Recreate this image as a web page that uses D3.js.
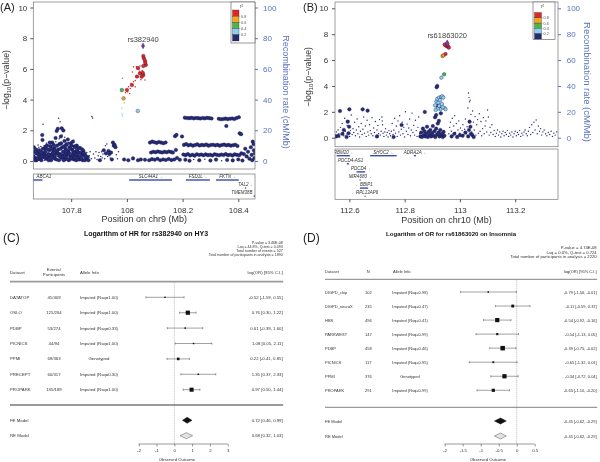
<!DOCTYPE html>
<html><head><meta charset="utf-8">
<script src="https://cdn.jsdelivr.net/npm/d3@7"></script>
<style>
body{margin:0;background:#fff}
svg{display:block;font-family:"Liberation Sans",Arial,sans-serif;will-change:transform}
</style>
</head><body>
<svg id="c" width="600" height="462"></svg>
<script>
// ---------------- DATA ----------------
const ldLabels = ["0.8","0.6","0.4","0.2"];
const ldColors = {red:"#e3261f", orange:"#f6a41f", green:"#4db545", lb:"#8ccff1", navy:"#262b74"};
const locusYTicks = [0,2,4,6,8,10];
const recombTicks = [0,20,40,60,80,100];

// Panel A: chr9 [position Mb, -log10 p, genotyped flag]
const A_xTicks = [107.8,108,108.2,108.4];
const A_lead = {snp:"rs382940", pos:108.058, p:7.5};
const A_red = [[108.059,6.84,1],[108.061,6.69,1],[108.065,6.53,1],[108.068,6.25,1],[108.059,6.19,1],[108.047,6.19,0],[108.034,6.14,0],[108.024,6.14,0],[108.047,5.71,1],[108.059,5.60,1],[108.053,5.49,1],[108.065,5.28,0],[108.041,5.49,0],[108.024,5.17,0],[108.018,4.95,1],[108.006,4.84,0],[108.000,4.63,1],[108.012,4.73,0],[108.030,4.84,0],[108.066,6.40,1],[108.063,6.60,0],[108.055,5.90,0],[108.045,5.85,0],[108.036,5.50,1],[108.030,5.25,0],[108.015,5.05,0],[107.995,4.45,0],[108.003,4.50,0],[108.050,5.30,0],[108.010,4.40,0],[108.020,5.80,0],[108.040,6.05,1],[108.057,5.75,1]];
const A_green = [[107.984,5.39,0],[107.982,4.63,1],[107.979,4.52,0],[107.986,4.58,0]];
const A_orange = [[107.988,4.08,1],[107.991,3.80,0],[107.985,4.12,0]];
const A_lb = [[108.039,3.26,1],[107.982,3.06,0],[107.985,2.93,0],[107.982,3.43,0]];
const A_navy = [
[107.665,0.3,1],[107.667,0.6,1],[107.668,0.1,1],[107.670,0.45,0],[107.672,0.2,1],[107.674,0.75,1],[107.676,0.05,1],[107.678,0.35,0],[107.680,0.55,1],[107.682,0.15,1],[107.684,0.9,0],[107.686,0.3,1],[107.688,0.6,0],[107.690,0.1,1],[107.692,0.4,1],[107.694,0.7,0],[107.696,1.69,1],[107.697,1.37,1],[107.699,2.39,0],[107.700,0.25,1],[107.702,0.5,1],[107.704,0.05,0],[107.706,0.8,1],[107.708,0.35,1],[107.710,0.15,1],[107.712,0.6,0],[107.714,1.0,1],[107.716,0.2,1],[107.718,0.45,1],[107.720,0.1,0],[107.722,0.7,1],[107.724,0.3,1],[107.726,0.95,1],[107.728,0.05,1],[107.730,0.55,0],[107.732,1.2,1],[107.734,0.25,1],[107.736,0.65,1],[107.738,0.4,0],[107.740,0.85,1],[107.742,0.15,1],[107.744,1.5,1],[107.746,0.5,1],[107.748,1.95,1],[107.750,0.3,0],[107.752,2.1,1],[107.754,0.75,1],[107.755,2.78,0],[107.756,0.05,1],[107.758,1.1,1],[107.760,2.56,0],[107.761,0.45,1],[107.763,1.6,1],[107.765,0.2,1],[107.766,2.13,1],[107.768,0.9,1],[107.770,0.35,1],[107.772,1.99,1],[107.774,0.6,1],[107.776,1.3,1],[107.778,0.1,1],[107.780,0.8,1],[107.782,1.05,1],[107.784,0.4,1],[107.786,0.2,0],[107.788,1.4,1],[107.790,0.65,1],[107.792,0.05,1],[107.794,0.9,1],[107.796,0.3,1],[107.798,1.15,1],[107.800,0.5,0],[107.802,0.15,1],[107.804,0.75,1],[107.806,1.26,1],[107.808,0.4,1],[107.810,0.1,1],[107.812,0.95,1],[107.814,0.25,0],[107.816,0.6,1],[107.818,0.05,1],[107.820,1.0,1],[107.822,0.35,1],[107.824,0.7,0],[107.826,0.2,1],[107.828,0.55,1],[107.830,0.1,1],[107.832,0.85,1],[107.835,0.3,0],[107.838,0.45,1],[107.841,0.05,1],[107.844,0.65,1],[107.847,0.2,0],[107.850,0.4,1],[107.853,0.1,1],[107.856,0.55,0],[107.859,0.25,1],[107.862,0.05,1],[107.865,0.35,0],
[107.669,0.8,0],[107.691,0.95,0],[107.701,0.9,0],[107.703,1.0,0],[107.711,1.15,0],[107.725,1.1,0],[107.745,1.25,0],[107.757,1.45,0],[107.767,1.7,0],[107.777,1.55,0],[107.791,1.2,0],[107.809,1.35,0],[107.683,0.45,1],[107.705,0.3,1],[107.727,0.4,1],[107.739,0.2,1],[107.751,0.55,1],[107.769,0.25,1],[107.787,0.5,1],[107.803,0.3,1],[107.817,0.45,1],
[107.666,0.9,1],[107.671,0.05,1],[107.675,0.5,1],[107.679,0.15,1],[107.681,1.05,0],[107.685,0.7,1],[107.689,0.25,1],[107.693,0.05,1],[107.695,0.55,1],[107.698,0.8,1],[107.707,0.6,1],[107.709,0.95,1],[107.713,0.35,1],[107.717,0.75,1],[107.719,0.05,1],[107.721,0.4,1],[107.723,1.2,1],[107.729,0.25,1],[107.731,0.8,1],[107.733,0.5,1],[107.737,1.05,1],[107.741,0.35,1],[107.743,0.7,1],[107.747,0.1,1],[107.749,1.0,1],[107.753,0.45,1],[107.759,0.3,1],[107.762,0.8,1],[107.764,1.15,1],[107.771,0.6,1],[107.773,0.05,1],[107.775,0.95,1],[107.779,0.45,1],[107.781,0.25,1],[107.783,0.7,1],[107.785,1.1,1],[107.789,0.1,1],[107.793,0.5,1],[107.797,0.8,1],[107.799,0.2,1],[107.801,1.0,1],[107.805,0.35,1],[107.807,0.6,1],[107.811,0.5,1],[107.813,0.2,1],[107.815,0.9,1],[107.819,0.4,1],[107.821,0.7,1],[107.823,0.1,1],[107.827,0.85,1],[107.829,0.3,1],[107.833,0.55,1],[107.837,0.15,1],[107.840,0.75,1],[107.843,0.35,1],[107.846,0.5,1],[107.849,0.05,1],[107.852,0.3,1],
[107.868,0.6,0],[107.872,0.15,0],[107.874,2.9,0],[107.877,2.8,0],[107.880,0.45,0],[107.885,0.2,0],[107.889,0.6,0],[107.893,0.1,0],[107.897,0.35,0],[107.900,0.55,0],[107.903,0.05,1],[107.906,0.3,0],[107.909,0.6,0],[107.911,0.2,0],[107.914,0.45,0],[107.917,0.7,1],[107.920,0.15,0],[107.923,1.0,0],[107.925,0.5,1],[107.928,1.1,0],[107.931,0.3,0],[107.934,0.65,1],[107.937,0.45,1],[107.940,0.2,0],[107.943,0.55,1],[107.946,0.1,1],[107.950,1.2,1],[107.953,1.0,1],[107.956,1.05,1],[107.959,0.9,1],[107.962,0.4,0],[107.966,0.15,0],[107.970,0.6,0],
[107.990,0.1,1],[108.005,0.05,1],[108.022,0.17,1],[108.040,0.05,1],[108.050,0.1,1],[108.065,0.08,1],[108.080,0.05,1],
[108.083,1.2,1],[108.091,1.26,1],[108.099,1.22,1],[108.107,1.18,1],[108.115,1.24,1],[108.123,1.2,1],[108.131,1.16,1],[108.139,1.21,1],
[108.087,0.55,1],[108.095,0.6,1],[108.103,0.57,1],[108.111,0.62,1],[108.119,0.58,1],[108.127,0.55,1],[108.135,0.6,1],[108.143,0.57,1],[108.151,0.62,1],[108.159,0.58,1],[108.165,0.55,1],
[108.090,0.12,1],[108.100,0.08,1],[108.110,0.15,1],[108.120,0.05,1],[108.130,0.1,1],[108.140,0.07,1],[108.150,0.13,1],[108.160,0.06,1],[108.170,0.1,1],[108.180,0.2,1],[108.190,0.08,1],
[108.173,1.62,1],[108.178,1.7,1],[108.198,1.6,1],[108.176,0.72,1],
[108.208,2.82,1],[108.216,2.80,1],[108.224,2.79,1],[108.232,2.81,1],[108.240,2.78,1],[108.248,2.80,1],[108.256,2.79,1],[108.264,2.77,1],[108.272,2.80,1],[108.280,2.78,1],[108.288,2.81,1],[108.296,2.79,1],[108.304,2.77,1],[108.330,2.75,1],[108.338,2.72,1],[108.346,2.74,1],[108.354,2.76,1],[108.362,2.73,1],[108.370,2.75,1],[108.378,2.77,1],[108.386,2.74,1],[108.394,2.80,1],[108.402,2.85,1],[108.357,2.28,1],
[108.205,1.05,1],[108.213,1.1,1],[108.221,1.02,1],[108.229,1.06,1],[108.237,1.0,1],[108.245,1.04,1],[108.253,1.08,1],[108.261,1.01,1],[108.269,1.05,1],[108.277,1.03,1],[108.285,1.07,1],[108.293,1.0,1],[108.301,1.04,1],[108.309,1.06,1],[108.317,1.02,1],[108.325,1.05,1],[108.333,1.0,1],[108.341,1.04,1],[108.349,1.07,1],[108.357,1.02,1],[108.365,1.05,1],[108.373,1.0,1],[108.381,1.03,1],[108.389,1.06,1],[108.397,0.98,1],
[108.203,0.42,1],[108.211,0.38,1],[108.219,0.45,1],[108.227,0.36,1],[108.235,0.41,1],[108.243,0.35,1],[108.251,0.44,1],[108.259,0.39,1],[108.267,0.42,1],[108.275,0.37,1],[108.283,0.43,1],[108.291,0.38,1],[108.299,0.41,1],[108.307,0.36,1],[108.315,0.44,1],[108.323,0.4,1],[108.331,0.37,1],[108.339,0.42,1],[108.347,0.39,1],[108.355,0.45,1],[108.363,0.38,1],[108.371,0.41,1],[108.379,0.36,1],[108.387,0.43,1],[108.395,0.4,1],[108.403,0.37,1],[108.411,0.5,1],[108.420,0.45,1],
[108.210,0.08,1],[108.225,0.02,1],[108.240,0.1,0],[108.260,0.05,1],[108.280,0.12,0],[108.300,0.03,1],[108.320,0.09,1],[108.340,0.02,0],[108.360,0.07,1],[108.380,0.04,1],[108.400,0.1,1],[108.415,0.03,1],
[108.405,1.8,1],[108.410,1.75,1],[108.425,0.8,1],[108.430,0.3,1],[108.435,0.6,1],[108.440,0.15,1],[108.445,0.9,1],[108.448,0.4,1],[108.452,1.26,1],[108.455,1.1,1],[108.456,0.7,1],[108.458,0.2,1],[108.460,0.5,1],[108.450,0.05,1]
];
const A_geneName = ["ABCA1","SLC44A1","FSD1L","FKTN","TAL2","TMEM38B"];
const A_geneStart = [107.54,108.008,108.212,108.320,108.424,108.455];
const A_geneEnd = [107.697,108.162,108.298,108.402,108.428,108.52];
const A_geneStrand = ["-","+","+","+","+","+"];
const A_geneRow = [0,0,0,0,1,2];

// Panel B: chr10
const B_xTicks = [112.6,112.8,113,113.2];
const B_lead = {snp:"rs61863020", pos:112.954, p:7.29};
const B_red = [[112.947,7.16,1],[112.951,7.09,1],[112.957,7.03,1],[112.960,6.96,1],[112.948,6.47,1],[112.955,7.12,1],[112.945,7.20,1]];
const B_orange = [[112.937,6.31,1],[112.941,6.37,1]];
const B_green = [[112.943,4.90,1]];
const B_lb = [[112.933,4.64,1],[112.910,2.5,1],[112.915,2.8,1],[112.918,3.0,1],[112.922,2.7,1],[112.925,3.1,1],[112.928,2.9,1],[112.932,3.15,1],[112.936,3.2,1],[112.940,3.1,1],[112.944,2.3,1],[112.948,2.2,1],[112.930,2.2,1],[112.920,2.25,1],[112.912,2.15,1],[112.925,2.45,1],[112.935,2.6,1],[112.938,2.35,1]];
const B_navy = [
[112.550,0.2,0],[112.553,0.45,0],[112.556,0.1,0],[112.559,0.6,0],[112.562,0.3,0],[112.565,0.05,0],[112.568,0.8,0],[112.571,0.25,0],[112.574,1.1,0],[112.577,0.4,0],[112.580,0.15,0],[112.583,1.5,0],[112.586,0.5,0],[112.589,0.2,0],[112.592,0.95,0],[112.595,0.35,0],[112.598,1.3,0],[112.601,0.1,0],[112.604,0.55,0],[112.607,1.75,0],[112.610,0.25,0],[112.613,0.7,0],[112.616,0.4,0],[112.619,1.2,0],[112.622,0.15,0],[112.625,0.6,0],[112.628,1.45,0],[112.631,0.3,0],[112.634,0.85,0],[112.637,0.05,0],[112.640,0.5,0],[112.643,1.1,0],[112.646,0.25,0],[112.649,0.65,0],[112.652,1.6,0],[112.655,0.35,0],[112.658,0.9,0],[112.661,0.1,0],[112.664,1.35,0],[112.667,0.45,0],[112.670,0.2,0],[112.673,1.0,0],[112.676,0.55,0],[112.679,0.3,0],[112.682,1.55,0],[112.685,0.15,0],[112.688,0.75,0],[112.691,0.4,0],[112.694,1.25,0],[112.697,0.05,0],[112.700,0.6,0],[112.703,0.95,0],[112.706,0.3,0],[112.709,1.4,0],[112.712,0.2,0],[112.715,0.5,0],[112.718,1.6,0],[112.719,1.3,0],[112.720,1.0,0],[112.722,0.35,0],[112.725,0.1,0],[112.728,0.45,0],[112.731,0.7,0],[112.734,0.2,0],[112.737,0.4,0],[112.740,0.05,0],[112.743,0.55,0],[112.746,0.3,0],[112.749,0.15,0],[112.752,0.5,0],[112.755,1.1,0],[112.758,0.25,0],[112.761,0.6,0],[112.764,1.5,0],[112.767,0.35,0],[112.770,0.9,0],[112.773,0.1,0],[112.776,1.3,0],[112.779,0.45,0],[112.782,1.7,0],[112.785,0.2,0],[112.788,0.65,0],[112.791,1.2,0],[112.794,0.3,0],[112.797,0.8,0],[112.800,0.05,0],[112.803,2.0,0],[112.806,0.5,0],[112.809,1.05,0],[112.812,0.25,0],[112.815,0.75,0],[112.818,1.45,0],[112.821,0.15,0],[112.824,0.6,0],[112.827,1.9,0],[112.830,0.4,0],[112.833,0.95,0],[112.836,0.2,0],[112.839,1.35,0],[112.842,0.55,0],[112.845,0.1,0],[112.848,0.8,0],[112.851,1.6,0],[112.854,0.3,0],
[112.960,0.3,0],[112.963,0.8,0],[112.966,1.2,0],[112.969,0.5,0],[112.972,1.5,0],[112.975,0.2,0],[112.978,0.9,0],[112.981,1.7,0],[112.984,0.4,0],[112.987,1.1,0],[112.990,0.15,0],[112.993,0.6,0],[112.996,1.3,0],[112.999,0.35,0],[113.002,0.75,0],[113.005,0.1,0],[113.008,0.55,0],[113.011,1.0,0],[113.014,0.25,0],[113.017,0.65,0],[113.020,1.45,0],[113.023,0.3,0],[113.026,0.85,0],[113.029,2.3,0],[113.031,3.45,0],[113.033,3.1,0],[113.035,2.78,0],[113.037,2.9,0],[113.040,1.8,0],[113.043,0.45,0],[113.046,2.06,0],[113.049,1.2,0],[113.052,0.6,0],[113.055,1.63,0],[113.058,0.2,0],[113.061,1.0,0],[113.064,1.4,0],[113.067,0.35,0],[113.070,1.85,0],[113.073,0.5,0],[113.076,1.25,0],[113.079,0.15,0],[113.082,0.7,0],[113.085,1.55,0],[113.088,0.3,0],[113.091,0.9,0],[113.094,1.3,0],[113.097,0.45,0],[113.100,2.14,0],[113.103,1.6,0],[113.106,0.2,0],[113.109,0.8,0],[113.112,0.4,0],[113.116,1.0,0],[113.120,0.25,0],[113.124,0.55,0],[113.128,0.1,0],[113.132,0.35,0],[113.136,0.6,0],[113.140,0.2,0],[113.144,0.45,0],[113.148,0.05,0],[113.152,0.3,0],[113.156,0.5,0],[113.160,0.15,0],[113.164,0.4,0],[113.168,0.25,0],[113.172,0.55,0],[113.176,0.1,0],[113.180,0.35,0],[113.184,0.2,0],[113.188,0.45,0],[113.192,0.05,0],[113.196,0.3,0],[113.200,0.5,0],[113.204,0.15,0],[113.208,0.4,0],[113.212,0.25,0],[113.216,0.55,0],[113.220,0.1,0],[113.224,0.35,0],[113.228,0.2,0],[113.232,0.45,0],[113.236,0.6,0],[113.240,0.3,0],[113.244,0.15,0],[113.248,0.5,0],[113.252,0.8,0],[113.256,0.25,0],[113.260,1.0,0],[113.264,0.4,0],[113.268,1.2,0],[113.272,0.6,0],[113.276,1.37,0],[113.280,0.3,0],[113.284,0.9,0],[113.288,0.5,0],[113.292,0.7,0],[113.296,0.2,0],[113.300,0.45,0],[113.305,0.6,0],[113.310,0.3,0],[113.315,0.15,0],[113.320,0.4,0],[113.325,0.25,0],[113.330,0.5,0],[113.335,0.1,0],[113.340,0.35,0],[113.345,0.2,0],[113.350,0.45,0],
[112.566,2.06,1],[112.594,1.24,1],[112.599,0.85,1],[112.597,0.34,1],[112.600,2.19,1],[112.648,2.19,1],[112.666,2.09,1],[112.560,0.15,1],[112.580,0.6,1],[112.789,0.98,1],[112.873,1.99,1],[112.552,0.1,1],[112.575,0.3,1],[112.590,0.05,1],[112.700,0.1,1],[112.760,0.05,1],
[112.857,0.1,1],[112.860,0.4,1],[112.863,0.05,1],[112.866,0.7,1],[112.869,0.2,1],[112.872,0.5,1],[112.875,0.1,1],[112.878,0.3,1],[112.881,0.85,1],[112.884,0.05,1],[112.887,0.45,1],[112.890,0.2,1],[112.893,0.6,1],[112.896,0.1,1],[112.899,0.35,1],[112.902,0.9,1],[112.905,0.15,1],[112.908,0.5,1],[112.911,0.05,1],[112.914,0.7,1],[112.917,0.25,1],[112.920,1.1,1],[112.923,0.4,1],[112.926,0.1,1],[112.929,0.6,1],[112.932,0.2,1],[112.935,0.3,1],[112.938,0.05,1],[112.941,0.45,1],[112.944,0.15,1],[112.910,1.58,1],[112.914,1.75,1],[112.931,1.88,1],[112.919,2.45,1],[112.927,2.3,1],[112.918,4.0,1],[112.916,3.9,1],[112.924,1.3,1],
[113.035,1.24,1],[113.038,0.85,1],[113.033,0.6,1],[113.040,0.3,1],[112.970,0.1,1],[112.980,0.3,1],[112.990,0.05,1],[113.000,0.2,1],[113.010,0.15,1],[113.020,0.4,1],[113.030,0.1,1],[113.045,0.2,1],[113.050,0.05,1]
];
const B_geneName = ["RBM20","SHOC2","ADRA2A","PDCD4-AS1","PDCD4","MIR4680","BBIP1","RPL13AP6"];
const B_geneStart = [112.554,112.675,112.834,112.591,112.626,112.637,112.638,112.655];
const B_geneEnd = [112.602,112.771,112.841,112.599,112.657,112.640,112.668,112.658];
const B_geneStrand = ["+","+","+","-","+","+","-","-"];
const B_geneRow = [0,0,0,1,2,3,4,5];

// Panel C forest
const C_title = "Logarithm of HR for rs382940 on HY3";
const C_stats = ["P-value = 3.46E-08","I-sq = 44.8%, Q-test = 0.093","Total number of events = 527","Total number of participants in analysis = 1890"];
const C_study = ["DATATOP","OSLO","PDBP","PICNICS","PPMI","PRECEPT","PROPARK"];
const C_count = ["41/409","125/264","53/274","44/94","69/363","60/317","135/189"];
const C_allele = ["Imputed (Rsq=1.00)","Imputed (Rsq=1.00)","Imputed (Rsq=0.33)","Imputed (Rsq=1.00)","Genotyped","Imputed (Rsq=0.30)","Imputed (Rsq=1.00)"];
const C_est = [-0.52,0.76,0.61,1.08,0.22,1.35,0.97];
const C_lo = [-1.59,0.30,-0.39,0.05,-0.41,0.37,0.50];
const C_hi = [0.55,1.22,1.60,2.11,0.85,2.33,1.44];
const C_model = ["FE Model","RE Model"];
const C_modelEst = [0.72,0.68];
const C_modelLo = [0.46,0.32];
const C_modelHi = [0.99,1.03];
const C_ticks = [-2,-1,0,1,2,3];

// Panel D forest
const D_title = "Logarithm of OR for rs61863020 on Insomnia";
const D_stats = ["P-value = 4.74E-08","I-sq = 0.0%, Q-test = 0.724","Total number of participants in analysis = 2220"];
const D_study = ["DIGPD_chip","DIGPD_neuroX","HBS","PARKWEST","PDBP","PICNICS","PPMI","PROPARK"];
const D_count = ["102","235","496","147","458","117","376","291"];
const D_allele = ["Imputed (Rsq=0.98)","Imputed (Rsq=0.47)","Imputed (Rsq=0.41)","Imputed (Rsq=0.99)","Imputed (Rsq=0.46)","Imputed (Rsq=0.95)","Genotyped","Imputed (Rsq=0.99)"];
const D_est = [-0.79,-0.11,-0.54,-0.54,-0.39,-0.65,-0.34,-0.65];
const D_lo = [-1.56,-0.59,-0.92,-1.13,-0.75,-1.32,-0.72,-1.10];
const D_hi = [-0.01,0.37,-0.16,0.05,-0.02,0.01,0.04,-0.20];
const D_model = ["FE Model","RE Model"];
const D_modelEst = [-0.45,-0.45];
const D_modelLo = [-0.62,-0.62];
const D_modelHi = [-0.29,-0.29];
const D_ticks = [-2,-1.5,-1,-0.5,0,0.5];

// ---------------- DRAWING ----------------
const svg = d3.select("#c");
const BLUE = "#5a72c2";
const TXT = "#333";

function locus(cfg){
  const g = svg.append("g");
  const x = d3.scaleLinear().domain(cfg.xDomain).range([cfg.left,cfg.right]);
  const y = d3.scaleLinear().domain([0,10]).range(cfg.yRange);
  const yr = d3.scaleLinear().domain([0,100]).range(cfg.yRange);

  g.append("clipPath").attr("id",cfg.id+"clip").append("rect")
    .attr("x",cfg.left).attr("y",cfg.top).attr("width",cfg.right-cfg.left).attr("height",cfg.bottom-cfg.top);
  g.append("clipPath").attr("id",cfg.id+"gclip").append("rect")
    .attr("x",cfg.left).attr("y",cfg.gTop).attr("width",cfg.right-cfg.left).attr("height",cfg.gBottom-cfg.gTop);

  const pg = g.append("g").attr("clip-path",`url(#${cfg.id}clip)`);
  const layers = [[cfg.navy,ldColors.navy],[cfg.lb,ldColors.lb],[cfg.green,ldColors.green],[cfg.orange,ldColors.orange],[cfg.red,ldColors.red]];
  layers.forEach(([pts,col])=>{
    pg.append("g").selectAll("circle").data(pts).join("circle")
      .attr("cx",d=>x(d[0])).attr("cy",d=>y(d[1]))
      .attr("r",d=>d[2]?cfg.rBig:cfg.rSmall)
      .attr("fill",col).attr("stroke",d=>d[2]?"#15154a":"none").attr("stroke-width",0.35);
  });
  // lead SNP
  pg.append("path").attr("d",d3.symbol(d3.symbolDiamond,cfg.leadSize)())
    .attr("transform",`translate(${x(cfg.lead.pos)},${y(cfg.lead.p)})`)
    .attr("fill","#7a3d9e").attr("stroke","#2a1040").attr("stroke-width",0.4);
  g.append("text").attr("x",x(cfg.lead.pos)).attr("y",y(cfg.lead.p)-cfg.leadDy)
    .attr("text-anchor","middle").attr("font-size",7.5).attr("fill","#444").text(cfg.lead.snp);

  // plot box
  g.append("rect").attr("x",cfg.left).attr("y",cfg.top).attr("width",cfg.right-cfg.left)
    .attr("height",cfg.bottom-cfg.top).attr("fill","none").attr("stroke","#777").attr("stroke-width",0.7);

  // left axis
  const ax = g.append("g").attr("transform",`translate(${cfg.left},0)`)
    .call(d3.axisLeft(y).tickValues(locusYTicks).tickSize(3).tickPadding(cfg.lPad));
  ax.select(".domain").remove();
  ax.selectAll("text").attr("font-size",8).attr("fill",TXT).attr("font-family","Liberation Sans, Arial");
  ax.selectAll("line").attr("stroke","#555");
  // right axis
  const ar = g.append("g").attr("transform",`translate(${cfg.right},0)`)
    .call(d3.axisRight(yr).tickValues(recombTicks).tickSize(3).tickPadding(cfg.rPad));
  ar.select(".domain").remove();
  ar.selectAll("text").attr("font-size",8).attr("fill",BLUE).attr("font-family","Liberation Sans, Arial");
  ar.selectAll("line").attr("stroke",BLUE);

  // axis titles
  const lt = g.append("text").attr("transform",`translate(${cfg.lTitleX},${cfg.lTitleY}) rotate(-90)`)
    .attr("text-anchor","middle").attr("font-size",8.7).attr("fill",TXT);
  lt.append("tspan").text("\u2212log");
  lt.append("tspan").attr("font-size",6).attr("dy",2).text("10");
  lt.append("tspan").attr("dy",-2).text("(p\u2212value)");
  g.append("text").attr("transform",`translate(${cfg.rTitleX},${cfg.rTitleY}) rotate(90)`)
    .attr("text-anchor","middle").attr("font-size",cfg.rTitleSize).attr("fill",BLUE)
    .text("Recombination rate (cM/Mb)");

  // legend
  const L = cfg.legend;
  g.append("rect").attr("x",L.x).attr("y",L.y).attr("width",L.w).attr("height",L.h)
    .attr("fill","#fff").attr("stroke","#555").attr("stroke-width",0.6);
  const lr = g.append("text").attr("x",L.x+L.w/2-3).attr("y",L.y+6).attr("font-size",4.5).attr("fill","#444");
  lr.append("tspan").text("r");
  lr.append("tspan").attr("font-size",3).attr("dy",-1.5).text("2");
  const cols = [ldColors.red,ldColors.orange,ldColors.green,ldColors.lb,ldColors.navy];
  cols.forEach((c,i)=>{
    g.append("rect").attr("x",L.x+1.5).attr("y",L.sqTop+i*L.sq).attr("width",L.sqW).attr("height",L.sq)
      .attr("fill",c).attr("stroke","#222").attr("stroke-width",0.3);
  });
  ldLabels.forEach((t,i)=>{
    const yy = L.sqTop+(i+1)*L.sq;
    g.append("line").attr("x1",L.x+1.5+L.sqW).attr("x2",L.x+2.8+L.sqW).attr("y1",yy).attr("y2",yy).attr("stroke","#444").attr("stroke-width",0.3);
    g.append("text").attr("x",L.x+3.5+L.sqW).attr("y",yy+1.4).attr("font-size",3.8).attr("fill","#555").text(t);
  });

  // gene box
  g.append("rect").attr("x",cfg.left).attr("y",cfg.gTop).attr("width",cfg.right-cfg.left)
    .attr("height",cfg.gBottom-cfg.gTop).attr("fill","none").attr("stroke","#777").attr("stroke-width",0.7);
  const gg = g.append("g").attr("clip-path",`url(#${cfg.id}gclip)`);
  cfg.genes.name.forEach((nm,i)=>{
    const x0 = x(cfg.genes.start[i]), x1 = x(cfg.genes.end[i]);
    const row = cfg.genes.row[i];
    const by = cfg.gTop + cfg.gRow0 + row*cfg.gRowH;
    gg.append("rect").attr("x",x0).attr("y",by-0.7).attr("width",Math.max(1,x1-x0)).attr("height",1.4)
      .attr("fill","#3b4ea6");
    const label = cfg.genes.strand[i]==="+" ? nm+"\u2192" : "\u2190"+nm;
    const w = label.length*4.5*0.55;
    let cx = (x0+x1)/2;
    cx = Math.max(cfg.left+1+w/2, Math.min(cfg.right-1-w/2, cx));
    gg.append("text").attr("x",cx).attr("y",by-2).attr("text-anchor","middle")
      .attr("font-size",4.5).attr("font-style","italic").attr("fill","#333").text(label);
  });

  // x axis
  const axb = g.append("g").attr("transform",`translate(0,${cfg.gBottom})`)
    .call(d3.axisBottom(x).tickValues(cfg.xTicks).tickSize(3).tickPadding(5).tickFormat(d=>String(d)));
  axb.select(".domain").remove();
  axb.selectAll("text").attr("font-size",8).attr("fill",TXT).attr("font-family","Liberation Sans, Arial");
  axb.selectAll("line").attr("stroke","#555");
  g.append("text").attr("x",(cfg.left+cfg.right)/2).attr("y",cfg.xTitleY).attr("text-anchor","middle")
    .attr("font-size",9).attr("fill",TXT).text(cfg.xTitle);

  g.append("text").attr("x",cfg.tagX).attr("y",10.5).attr("font-size",11).attr("fill","#222").text(cfg.tag);
}

locus({id:"A",tag:"(A)",tagX:0,left:33.3,right:255,top:2,bottom:169,
  xDomain:[107.664,108.46],yRange:[161,7.5],
  navy:A_navy,lb:A_lb,green:A_green,orange:A_orange,red:A_red,lead:A_lead,
  rBig:1.8,rSmall:0.75,leadSize:9,leadDy:4,
  lPad:3,rPad:5,lTitleX:9,lTitleY:80,rTitleX:283,rTitleY:92,rTitleSize:9,
  legend:{x:231,y:2,w:24,h:41,sqTop:10,sq:6.2,sqW:6.5},
  gTop:174,gBottom:199,gRow0:6,gRowH:8,
  genes:{name:A_geneName,start:A_geneStart,end:A_geneEnd,strand:A_geneStrand,row:A_geneRow},
  xTicks:A_xTicks,xTitle:"Position on chr9 (Mb)",xTitleY:222});

locus({id:"B",tag:"(B)",tagX:303,left:335,right:558,top:2,bottom:146.7,
  xDomain:[112.548,113.355],yRange:[137.7,8.3],
  navy:B_navy,lb:B_lb,green:B_green,orange:B_orange,red:B_red,lead:B_lead,
  rBig:1.8,rSmall:0.7,leadSize:14,leadDy:5,
  lPad:3.7,rPad:5.7,lTitleX:311,lTitleY:77,rTitleX:584,rTitleY:82,rTitleSize:9.5,
  legend:{x:533,y:2,w:22,h:37.5,sqTop:12.5,sq:5.3,sqW:7},
  gTop:149,gBottom:199.3,gRow0:6.7,gRowH:8.1,
  genes:{name:B_geneName,start:B_geneStart,end:B_geneEnd,strand:B_geneStrand,row:B_geneRow},
  xTicks:B_xTicks,xTitle:"Position on chr10 (Mb)",xTitleY:223});

function fmt(v){ return v.toFixed(2); }

function forest(cfg){
  const g = svg.append("g").attr("font-family","Liberation Sans, Arial");
  const x = d3.scaleLinear().domain(cfg.xDomain).range(cfg.xRange);
  const y = d3.scalePoint().domain(cfg.study).range(cfg.rowRange);
  const fs = cfg.fs;
  g.append("text").attr("x",cfg.tagX).attr("y",242).attr("font-size",12).attr("fill","#222").text(cfg.tag);
  g.append("text").attr("x",cfg.titleX).attr("y",235.5).attr("text-anchor","middle").attr("font-weight","bold")
    .attr("font-size",cfg.titleSize).attr("fill","#111").text(cfg.title);
  cfg.stats.forEach((s,i)=>{
    g.append("text").attr("x",cfg.colRight).attr("y",cfg.statsY+i*cfg.statsDy).attr("text-anchor","end")
      .attr("font-size",cfg.statsFs).attr("fill","#333").text(s);
  });
  // headers
  const hy = cfg.headerY;
  g.append("text").attr("x",cfg.colDataset).attr("y",hy).attr("font-size",fs).attr("fill","#333").text("Dataset");
  cfg.countHeader.forEach((t,i)=>{
    g.append("text").attr("x",cfg.colCount).attr("y",hy+(i-(cfg.countHeader.length-1)/2)*5.6)
      .attr("text-anchor","middle").attr("font-size",fs).attr("fill","#333").text(t);
  });
  g.append("text").attr("x",cfg.colAlleleHead).attr("y",hy).attr("font-size",fs).attr("fill","#333").text("Allele Info");
  g.append("text").attr("x",cfg.colRight).attr("y",hy).attr("text-anchor","end").attr("font-size",fs).attr("fill","#333").text("log(OR) [95% C.I.]");
  // separators
  [cfg.line1,cfg.line2].forEach(ly=>{
    g.append("line").attr("x1",cfg.colDataset).attr("x2",cfg.colRight+0.5).attr("y1",ly).attr("y2",ly)
      .attr("stroke","#9a9a9a").attr("stroke-width",cfg.lineW);
  });
  // zero line
  g.append("line").attr("x1",x(0)).attr("x2",x(0)).attr("y1",cfg.line1+1).attr("y2",cfg.axisY)
    .attr("stroke","#777").attr("stroke-width",0.5).attr("stroke-dasharray","1,1");
  // weights for square sizes
  const w = cfg.study.map((s,i)=>1/Math.pow((cfg.hi[i]-cfg.lo[i])/3.92,2));
  const wmin = d3.min(w), wmax = d3.max(w);
  cfg.study.forEach((s,i)=>{
    const yy = y(s);
    g.append("text").attr("x",cfg.colDataset).attr("y",yy+1.5).attr("font-size",fs).attr("fill","#333").text(s);
    g.append("text").attr("x",cfg.colCount).attr("y",yy+1.5).attr("text-anchor","middle").attr("font-size",fs).attr("fill","#333").text(cfg.count[i]);
    g.append("text").attr("x",cfg.colAllele).attr("y",yy+1.5).attr("text-anchor","middle").attr("font-size",fs).attr("fill","#333").text(cfg.allele[i]);
    g.append("text").attr("x",cfg.colRight).attr("y",yy+1.5).attr("text-anchor","end").attr("font-size",fs).attr("fill","#333")
      .text(`${fmt(cfg.est[i])} [${fmt(cfg.lo[i])}, ${fmt(cfg.hi[i])}]`);
    const xl = x(cfg.lo[i]), xh = x(cfg.hi[i]);
    g.append("line").attr("x1",xl).attr("x2",xh).attr("y1",yy).attr("y2",yy).attr("stroke","#444").attr("stroke-width",0.5);
    [xl,xh].forEach(xx=>g.append("line").attr("x1",xx).attr("x2",xx).attr("y1",yy-1.1).attr("y2",yy+1.1).attr("stroke","#444").attr("stroke-width",0.5));
    const sz = cfg.sqBase*(0.5+(w[i]-wmin)/(wmax-wmin));
    g.append("rect").attr("x",x(cfg.est[i])-sz/2).attr("y",yy-sz/2).attr("width",sz).attr("height",sz).attr("fill","#111");
  });
  cfg.model.forEach((m,i)=>{
    const yy = cfg.modelY[i];
    g.append("text").attr("x",cfg.colDataset).attr("y",yy+1.5).attr("font-size",fs).attr("fill","#333").text(m);
    g.append("text").attr("x",cfg.colRight).attr("y",yy+1.5).attr("text-anchor","end").attr("font-size",fs).attr("fill","#333")
      .text(`${fmt(cfg.mEst[i])} [${fmt(cfg.mLo[i])}, ${fmt(cfg.mHi[i])}]`);
    const pts = [[x(cfg.mLo[i]),yy],[x(cfg.mEst[i]),yy-3],[x(cfg.mHi[i]),yy],[x(cfg.mEst[i]),yy+3]];
    g.append("path").attr("d",d3.line()(pts)+"Z")
      .attr("fill",i===0?"#111":"#e4e4e4").attr("stroke",i===0?"#111":"#555").attr("stroke-width",0.5);
  });
  // axis
  const ax = g.append("g").attr("transform",`translate(0,${cfg.axisY})`)
    .call(d3.axisBottom(x).tickValues(cfg.ticks).tickSize(2.5).tickPadding(2).tickFormat(d=>String(d)));
  ax.select(".domain").attr("stroke","#333").attr("stroke-width",0.5).attr("d",`M${x(cfg.ticks[0])},0H${x(cfg.ticks[cfg.ticks.length-1])}`);
  ax.selectAll("line").attr("stroke","#333").attr("stroke-width",0.5);
  ax.selectAll("text").attr("font-size",4.3).attr("fill","#333").attr("font-family","Liberation Sans, Arial");
  g.append("text").attr("x",cfg.obsX).attr("y",461).attr("text-anchor","middle").attr("font-size",4.2).attr("fill","#333").text("Observed Outcome");
}

forest({tag:"(C)",tagX:3,title:C_title,titleX:146,titleSize:7,stats:C_stats,statsY:243.6,statsDy:4.0,statsFs:3.6,
  study:C_study,count:C_count,allele:C_allele,est:C_est,lo:C_lo,hi:C_hi,
  model:C_model,mEst:C_modelEst,mLo:C_modelLo,mHi:C_modelHi,ticks:C_ticks,
  xDomain:[-2,3],xRange:[138.7,227.7],rowRange:[297.3,389.7],modelY:[420.3,435.7],
  colDataset:10,colCount:54,colAllele:99,colAlleleHead:80,colRight:282.7,countHeader:["Events/","Participants"],
  headerY:273.5,line1:281.7,line2:405,lineW:1.8,axisY:444,obsX:177,fs:4.3,sqBase:2.8});

forest({tag:"(D)",tagX:303,title:D_title,titleX:451,titleSize:6.1,stats:D_stats,statsY:249,statsDy:4.5,statsFs:4.2,
  study:D_study,count:D_count,allele:D_allele,est:D_est,lo:D_lo,hi:D_hi,
  model:D_model,mEst:D_modelEst,mLo:D_modelLo,mHi:D_modelHi,ticks:D_ticks,
  xDomain:[-2,0.5],xRange:[444.7,534.7],rowRange:[292,390.3],modelY:[421,436],
  colDataset:325,colCount:368.3,colAllele:410,colAlleleHead:393,colRight:596.7,countHeader:["N"],
  headerY:273,line1:279.3,line2:407.3,lineW:1.2,axisY:444,obsX:488,fs:4.0,sqBase:3.0});
</script>
</body></html>
